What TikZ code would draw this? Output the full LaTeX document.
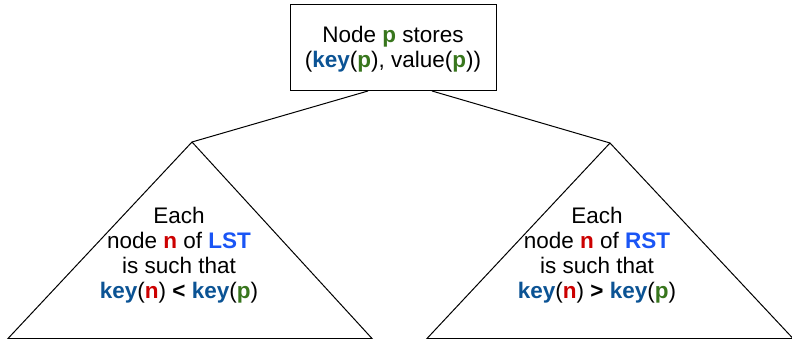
\documentclass[tikz,border=0pt]{standalone}
\usepackage{fontspec}
\setmainfont{Liberation Sans}
\definecolor{keyblue}{HTML}{0B5394}
\definecolor{pgreen}{HTML}{38761D}
\definecolor{nred}{HTML}{CC0000}
\definecolor{stblue}{HTML}{1A55F5}
\newcommand{\kk}{\textbf{\textcolor{keyblue}{key}}}
\newcommand{\pp}{\textbf{\textcolor{pgreen}{p}}}
\newcommand{\nn}{\textbf{\textcolor{nred}{n}}}
\begin{document}
\begin{tikzpicture}[x=1pt,y=-1pt,
  line/.style={draw=black,line width=1pt},
  txt/.style={align=center,font=\fontsize{22.5}{25}\selectfont,inner sep=0pt},
  rootbox/.style={draw=black,line width=1pt,minimum width=206pt,minimum height=86pt,inner sep=0pt}]
\useasboundingbox (0,0) rectangle (792,339);
% root box
\node[rootbox] (root) at (393,48) {};
\node[txt] (roottxt) at (393,49.5) {Node \pp{} stores\\(\kk(\pp), value(\pp))};
% triangles
\coordinate (lapex) at (192,142);
\coordinate (lbl) at (8,338.5);
\coordinate (lbr) at (372,338.5);
\coordinate (rapex) at (610,143);
\coordinate (rbl) at (427,338.5);
\coordinate (rbr) at (793,338.5);
\draw[line] (lbl) -- (lapex) -- (lbr) -- cycle;
\draw[line] (rbl) -- (rapex) -- (rbr) -- cycle;
% connectors
\coordinate (rootL) at (368,91);
\coordinate (rootR) at (432,91);
\draw[line] (rootL) -- (lapex);
\draw[line] (rootR) -- (rapex);
% texts
\node[txt] (ltxt) at (179,255) {Each\\node \nn{} of \textbf{\textcolor{stblue}{LST}}\\is such that\\\kk(\nn) \textbf{<} \kk(\pp)};
\node[txt] (rtxt) at (597,255) {Each\\node \nn{} of \textbf{\textcolor{stblue}{RST}}\\is such that\\\kk(\nn) \textbf{>} \kk(\pp)};
\end{tikzpicture}
\end{document}
